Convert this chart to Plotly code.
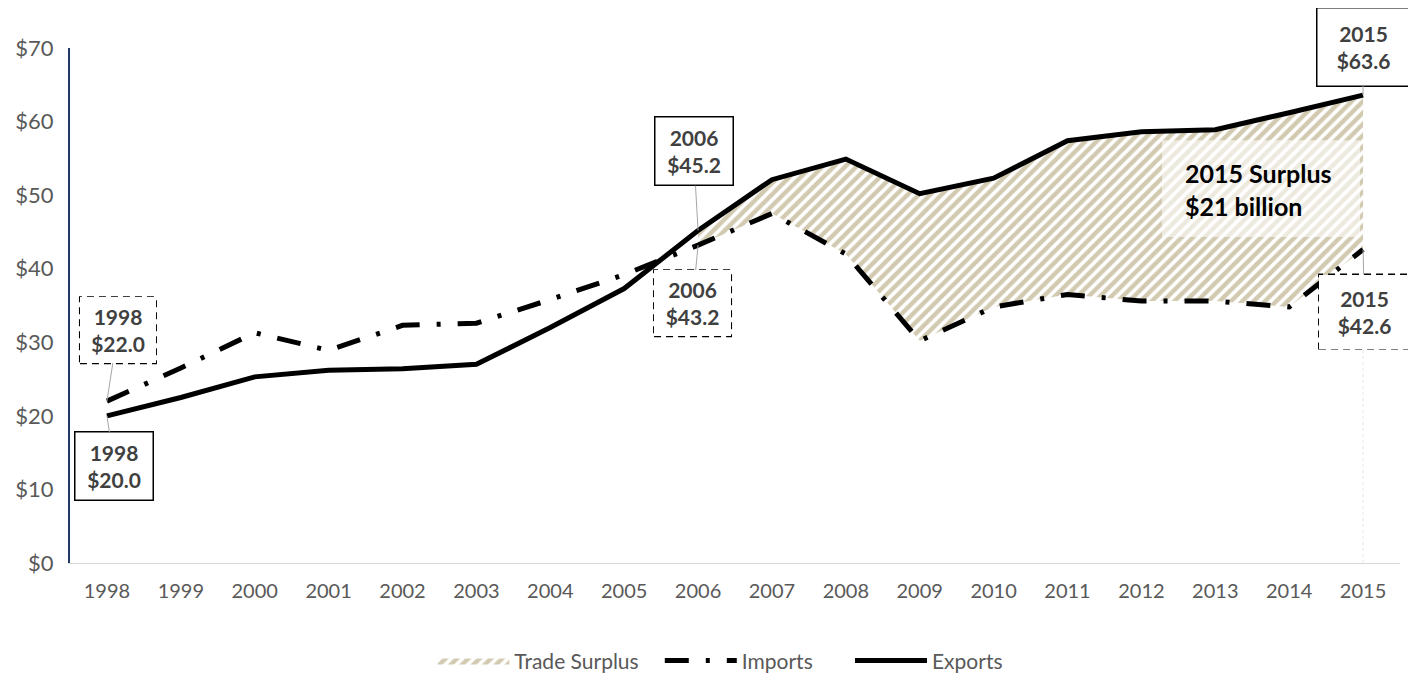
import plotly.graph_objects as go

years = [str(y) for y in range(1998, 2016)]
exports = [20.0, 22.5, 25.3, 26.2, 26.4, 27.0, 32.0, 37.3, 45.2, 52.1, 54.9, 50.2, 52.3, 57.4, 58.6, 58.9, 61.2, 63.6]
imports = [22.0, 26.5, 31.3, 28.9, 32.3, 32.6, 35.8, 39.2, 43.2, 47.5, 42.0, 30.2, 34.8, 36.5, 35.6, 35.6, 34.8, 42.6]
surplus_start = "2006"
y_ticks = [0, 10, 20, 30, 40, 50, 60, 70]
surplus_note = "2015 Surplus<br>$21 billion"

FONT = "Lato"
TAN = "#A39462"
s = years.index(surplus_start)
n = len(years)
ymax = y_ticks[-1]
PLOT_H = 515  # plot-area height in px

fig = go.Figure()
# invisible base for surplus band
fig.add_trace(go.Scatter(x=years[s:], y=imports[s:], mode="lines", line=dict(width=0, color="rgba(0,0,0,0)"),
                         showlegend=False, hoverinfo="skip"))
fig.add_trace(go.Scatter(x=years[s:], y=exports[s:], mode="lines", name="Trade Surplus\u00a0\u00a0\u00a0",
                         line=dict(width=0, color="rgba(0,0,0,0)"), fill="tonexty",
                         fillcolor="rgba(0,0,0,0)",
                         fillpattern=dict(shape="/", fgcolor=TAN, bgcolor="rgba(255,255,255,0)", size=8, solidity=0.55)))
fig.add_trace(go.Scatter(x=years, y=imports, mode="lines", name="Imports\u00a0\u00a0\u00a0\u00a0\u00a0\u00a0",
                         line=dict(color="black", width=5, dash="24px,17px,4px,17px")))
fig.add_trace(go.Scatter(x=years, y=exports, mode="lines", name="Exports",
                         line=dict(color="black", width=5)))

# (series, index, ax, ay, w, h, dashed)
labels = [
    (exports, 0, 7.5, 50.5, 77, 67, False),
    (imports, 0, 11, -71, 76, 66, True),
    (exports, s, -4.5, -79, 77, 67, False),
    (imports, s, -5.5, 58, 77, 66, True),
    (exports, n - 1, 0, -48.5, 92, 77, False),
    (imports, n - 1, 1.5, 62, 91, 74, True),
]
for series, i, ax, ay, w, h, dashed in labels:
    v = series[i]
    fig.add_annotation(x=i, y=v, xref="x", yref="y", text=f"<b>{years[i]}<br>${v:.1f}</b>",
                       showarrow=True, arrowhead=0, arrowwidth=1, arrowcolor="#A6A6A6",
                       ax=ax, ay=ay, standoff=0, width=w, height=h, borderpad=0,
                       bordercolor="black" if not dashed else "rgba(0,0,0,0)",
                       borderwidth=1.5 if not dashed else 0, bgcolor="white",
                       font=dict(family=FONT, size=21, color="#404040"), align="center")
    if dashed:
        fig.add_shape(type="rect", xref="paper", yref="paper",
                      xsizemode="pixel", ysizemode="pixel",
                      xanchor=(i + 0.5) / n, yanchor=v / ymax,
                      x0=ax - w / 2, x1=ax + w / 2, y0=-ay - h / 2, y1=-ay + h / 2,
                      line=dict(color="black", width=2, dash="7px,5px"), layer="above")

# faint drop line under the last imports label
last_ay, last_h = labels[-1][3], labels[-1][5]
fig.add_shape(type="line", xref="x", yref="y", x0=n - 1, x1=n - 1, y0=0,
              y1=imports[-1] - (last_ay + last_h / 2) * ymax / PLOT_H,
              line=dict(color="#E6E6E6", width=1, dash="dot"), layer="below")

# surplus note: translucent box + left aligned text
fig.add_shape(type="rect", xref="paper", yref="paper", x0=0.821, x1=0.970, y0=0.633, y1=0.821,
              line=dict(width=0), fillcolor="rgba(255,255,255,0.6)", layer="above")
fig.add_annotation(xref="paper", yref="paper", x=0.837, y=0.726, xanchor="left", yanchor="middle",
                   text=f"<b>{surplus_note}</b>", showarrow=False,
                   font=dict(family=FONT, size=25, color="black"), align="left")

fig.update_layout(
    width=1416, height=673, margin=dict(l=62, r=24, t=40, b=118, autoexpand=False),
    plot_bgcolor="white", paper_bgcolor="white",
    font=dict(family=FONT, size=20, color="#595959"),
    showlegend=True,
    legend=dict(orientation="h", x=0.489, xanchor="center", y=0.03, yref="container", yanchor="middle",
                traceorder="normal", font=dict(size=21, color="#595959"), itemwidth=72),
    xaxis=dict(type="category", categoryarray=years, range=[-0.5, n - 0.5], showgrid=False,
               showline=True, linecolor="#D9D9D9", linewidth=1, ticks="", ticklabelstandoff=10,
               zeroline=False, automargin=False),
    yaxis=dict(range=[0, ymax], tickvals=y_ticks, ticktext=[f"${t}" for t in y_ticks], showgrid=False,
               showline=True, linecolor="#1F3864", linewidth=2, ticks="", ticklabelstandoff=10,
               tickfont=dict(size=22), zeroline=False, automargin=False),
)
fig.write_html("out.html")
